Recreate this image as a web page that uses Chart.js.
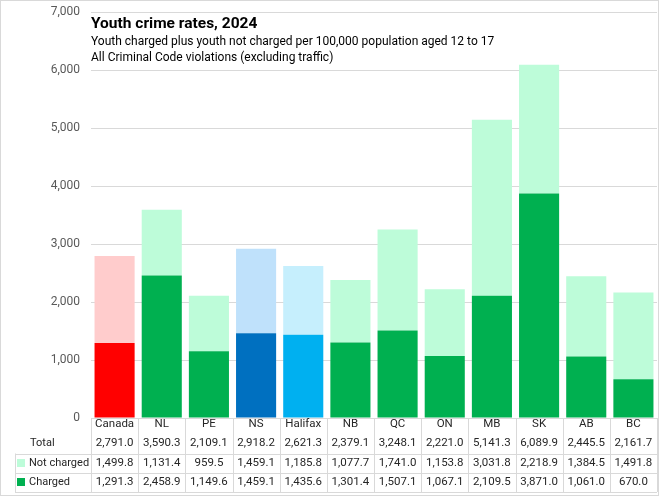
<!DOCTYPE html>
<html>
<head>
<meta charset="utf-8">
<script src="https://cdn.jsdelivr.net/npm/chart.js@4.4.1/dist/chart.umd.min.js"></script>
<style>
html,body{margin:0;padding:0;background:#fff;}
#wrap{width:659px;height:496px;position:relative;}
</style>
</head>
<body>
<div id="wrap"><canvas id="c" width="659" height="496"></canvas></div>
<script>
const categories = ["Canada","NL","PE","NS","Halifax","NB","QC","ON","MB","SK","AB","BC"];
const charged    = [1291.3,2458.9,1149.6,1459.1,1435.6,1301.4,1507.1,1067.1,2109.5,3871.0,1061.0,670.0];
const notCharged = [1499.8,1131.4,959.5,1459.1,1185.8,1077.7,1741.0,1153.8,3031.8,2218.9,1384.5,1491.8];
const totals     = [2791.0,3590.3,2109.1,2918.2,2621.3,2379.1,3248.1,2221.0,5141.3,6089.9,2445.5,2161.7];
const yTicks     = [0,1000,2000,3000,4000,5000,6000,7000];

const chargedColors = categories.map(c => c==="Canada" ? "#ff0000" : c==="NS" ? "#0070c0" : c==="Halifax" ? "#00b0f0" : "#00b050");
const notChargedColors = categories.map(c => c==="Canada" ? "#ffcccc" : c==="NS" ? "#bfe1fb" : c==="Halifax" ? "#c6effd" : "#bdfcd9");

const FONT = "Roboto";
const fmt = v => v.toLocaleString("en-US",{minimumFractionDigits:1,maximumFractionDigits:1});

const tablePlugin = {
  id:"tablePlugin",
  afterDraw(chart){
    const ctx = chart.ctx;
    const xs = chart.scales.x;
    const area = chart.chartArea;
    const left = area.left, right = area.right;
    const n = categories.length;
    const w = (right-left)/n;
    const top = area.bottom;
    const rowY = [top, 434.5, 453.5, 472.5, 492];
    ctx.save();
    ctx.strokeStyle = "#d9d9d9";
    ctx.lineWidth = 1;
    ctx.beginPath();
    for(let i=0;i<=n;i++){
      const x = Math.round(left + i*w)+0.5;
      ctx.moveTo(x, top); ctx.lineTo(x, rowY[4]);
    }
    [rowY[2], rowY[3], rowY[4]].forEach(y=>{
      const yy = Math.round(y)+0.5;
      ctx.moveTo(15, yy); ctx.lineTo(right, yy);
    });
    ctx.moveTo(15.5, rowY[2]); ctx.lineTo(15.5, rowY[4]);
    ctx.stroke();

    ctx.fillStyle = "#262626";
    ctx.font = "11.5px '"+FONT+"'";
    ctx.textBaseline = "middle";
    ctx.textAlign = "center";
    const mids = [424.5, 443.5, 463, 482];
    categories.forEach((c,i)=>{
      const cx = xs.getPixelForValue(i);
      ctx.fillText(c, cx, mids[0]);
      ctx.fillText(fmt(totals[i]), cx, mids[1]);
      ctx.fillText(fmt(notCharged[i]), cx, mids[2]);
      ctx.fillText(fmt(charged[i]), cx, mids[3]);
    });
    ctx.textAlign = "left";
    ctx.font = "11px '"+FONT+"'";
    ctx.fillText("Total", 30, mids[1]);
    ctx.fillText("Not charged", 29, mids[2]);
    ctx.fillText("Charged", 29, mids[3]);
    ctx.fillStyle = "#bdfcd9";
    ctx.fillRect(17, mids[2]-4, 8, 8);
    ctx.fillStyle = "#00b050";
    ctx.fillRect(17, mids[3]-4, 8, 8);

    ctx.fillStyle = "#000";
    ctx.textBaseline = "alphabetic";
    ctx.font = "bold 15.5px '"+FONT+"'";
    ctx.fillText("Youth crime rates, 2024", 91, 28);
    ctx.font = "12px '"+FONT+"'";
    ctx.fillText("Youth charged plus youth not charged per 100,000 population aged 12 to 17", 91, 45);
    ctx.fillText("All Criminal Code violations (excluding traffic)", 91, 61);

    ctx.strokeStyle = "#d9d9d9";
    ctx.strokeRect(0.5,0.5,658,495);
    ctx.restore();
  }
};

new Chart(document.getElementById("c"), {
  type:"bar",
  data:{
    labels:categories,
    datasets:[
      {label:"Charged", data:charged, backgroundColor:chargedColors, stack:"s", barPercentage:0.85, categoryPercentage:1},
      {label:"Not charged", data:notCharged, backgroundColor:notChargedColors, stack:"s", barPercentage:0.85, categoryPercentage:1}
    ]
  },
  options:{
    responsive:false,
    animation:false,
    devicePixelRatio:1,
    layout:{padding:{left:0,right:2,top:12,bottom:78}},
    plugins:{legend:{display:false},tooltip:{enabled:false},title:{display:false}},
    scales:{
      x:{stacked:true, display:false},
      y:{
        stacked:true, min:0, max:7000,
        afterFit(s){ s.width = 91; s.paddingTop = 0; s.paddingBottom = 0; },
        afterBuildTicks(s){ s.ticks = yTicks.map(v=>({value:v})); },
        grid:{color:"#d9d9d9", drawTicks:false, tickLength:0},
        border:{display:false},
        ticks:{padding:11, color:"#595959", font:{family:FONT, size:12},
          callback:v=>v.toLocaleString("en-US")}
      }
    }
  },
  plugins:[tablePlugin]
});
</script>
</body>
</html>
